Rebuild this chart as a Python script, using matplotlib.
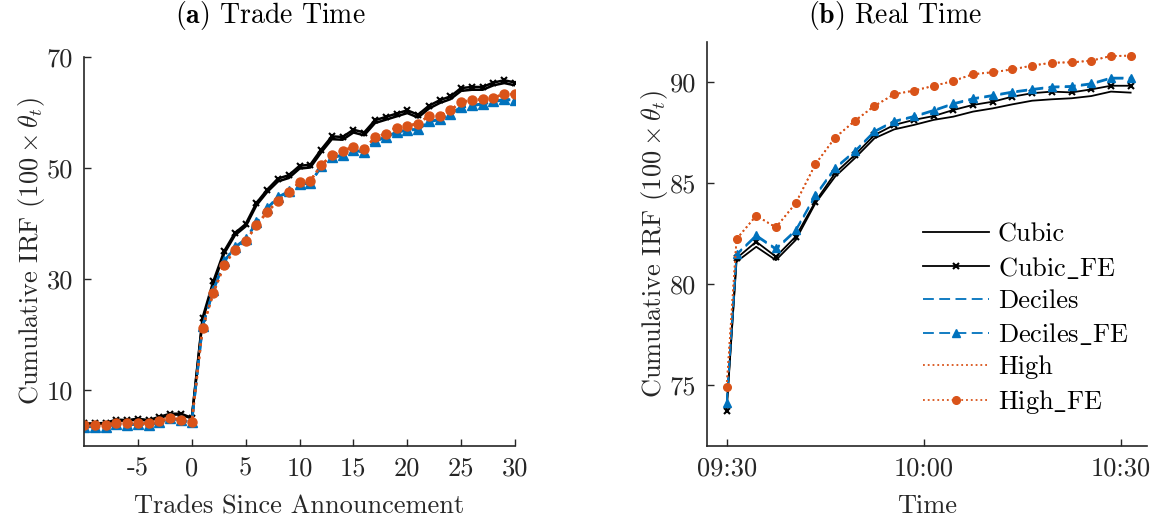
import numpy as np
import matplotlib
matplotlib.use("Agg")
import matplotlib.pyplot as plt

plt.rcParams['font.family'] = ['cmr10', 'DejaVu Serif']
plt.rcParams['mathtext.fontset'] = 'cm'
plt.rcParams['axes.formatter.use_mathtext'] = True

BLUE = '#0072BD'
ORANGE = '#D95319'
GREY = '#262626'

# ---- panel (a): trade time ----
trades = np.arange(-10, 31)
a_cubic_fe = [4.0, 4.0, 4.1, 4.7, 4.6, 4.85, 4.6, 5.2, 5.75, 5.75, 5.0,
              23.0, 29.6, 35.0, 38.3, 39.9, 43.7, 46.1, 48.1, 48.7, 50.4,
              50.6, 53.3, 55.7, 55.6, 56.9, 56.4, 58.6, 59.2, 59.8, 60.4,
              59.6, 61.2, 62.2, 62.9, 64.4, 64.6, 64.6, 65.4, 65.8, 65.4]
a_cubic = [3.9, 3.9, 4.0, 4.5, 4.5, 4.7, 4.5, 5.0, 5.6, 5.6, 4.9,
           22.6, 29.1, 34.6, 37.9, 39.5, 43.3, 45.7, 47.6, 48.2, 49.9,
           50.1, 52.8, 55.2, 55.1, 56.4, 55.9, 58.1, 58.7, 59.3, 59.9,
           59.1, 60.7, 61.7, 62.4, 63.9, 64.1, 64.1, 64.9, 65.3, 64.9]
a_deciles_fe = [3.4, 3.4, 3.4, 3.9, 3.7, 3.9, 3.7, 4.2, 4.9, 4.6, 4.2,
                21.6, 28.0, 33.2, 35.8, 37.2, 40.2, 42.8, 44.8, 45.8, 47.2,
                47.3, 50.3, 51.9, 52.4, 53.3, 52.9, 54.9, 55.6, 56.5, 56.9,
                57.0, 58.4, 58.8, 59.8, 61.0, 61.3, 61.6, 62.0, 62.4, 62.3]
a_deciles = [3.4, 3.4, 3.4, 3.9, 3.7, 3.9, 3.7, 4.2, 4.9, 4.6, 4.2,
             21.5, 27.9, 33.1, 35.7, 37.1, 40.1, 42.7, 44.7, 45.7, 47.1,
             47.2, 50.2, 51.8, 52.3, 53.2, 52.8, 54.8, 55.5, 56.4, 56.8,
             56.9, 58.3, 58.7, 59.7, 60.9, 61.2, 61.5, 61.9, 62.3, 62.2]
a_high_fe = [3.7, 3.7, 3.7, 4.1, 4.0, 4.1, 4.0, 4.4, 5.0, 4.7, 4.3,
             21.2, 27.5, 32.5, 35.3, 36.8, 39.7, 42.1, 44.1, 45.7, 47.4,
             47.7, 50.5, 52.3, 53.1, 53.8, 53.4, 55.5, 56.2, 57.3, 57.6,
             58.0, 59.4, 59.4, 60.4, 61.9, 62.2, 62.4, 62.7, 63.3, 63.3]
a_high = [3.7, 3.7, 3.7, 4.1, 4.0, 4.1, 4.0, 4.4, 5.0, 4.7, 4.3,
          21.2, 27.5, 32.5, 35.3, 36.8, 39.7, 42.1, 44.1, 45.7, 47.4,
          47.7, 50.5, 52.3, 53.1, 53.8, 53.4, 55.5, 56.2, 57.3, 57.6,
          58.0, 59.4, 59.4, 60.4, 61.9, 62.2, 62.4, 62.7, 63.3, 63.3]

# ---- panel (b): real time (minutes after 09:30) ----
minutes = [0, 1.5, 4.5, 7.5, 10.5, 13.5, 16.5, 19.5, 22.5, 25.5, 28.5,
           31.5, 34.5, 37.5, 40.5, 43.5, 46.5, 49.5, 52.5, 55.5, 58.5, 61.5]
b_cubic_fe = [73.75, 81.29, 82.11, 81.37, 82.36, 84.09, 85.50, 86.40, 87.39, 87.89, 88.14,
              88.33, 88.63, 88.88, 89.04, 89.29, 89.46, 89.54, 89.50, 89.65, 89.83, 89.83]
b_cubic = [73.94, 81.12, 81.86, 81.20, 82.19, 84.01, 85.33, 86.24, 87.23, 87.67, 87.89,
           88.14, 88.30, 88.55, 88.71, 88.91, 89.09, 89.16, 89.21, 89.32, 89.54, 89.49]
b_deciles_fe = [74.11, 81.50, 82.44, 81.78, 82.69, 84.42, 85.78, 86.60, 87.59, 88.09, 88.33,
                88.63, 88.96, 89.21, 89.37, 89.54, 89.67, 89.79, 89.82, 89.95, 90.23, 90.23]
b_deciles = [74.05, 81.45, 82.38, 81.72, 82.63, 84.36, 85.72, 86.55, 87.54, 88.04, 88.28,
             88.58, 88.91, 89.16, 89.32, 89.49, 89.62, 89.74, 89.77, 89.90, 90.18, 90.18]
b_high_fe = [74.93, 82.24, 83.40, 82.82, 84.01, 85.94, 87.26, 88.09, 88.83, 89.41, 89.59,
             89.82, 90.07, 90.40, 90.50, 90.64, 90.83, 90.97, 90.99, 91.07, 91.30, 91.32]
b_high = [74.93, 82.24, 83.40, 82.82, 84.01, 85.94, 87.26, 88.09, 88.83, 89.41, 89.59,
          89.82, 90.07, 90.40, 90.50, 90.64, 90.83, 90.97, 90.99, 91.07, 91.30, 91.32]
time_ticks = [0, 30, 60]
time_labels = ['09:30', '10:00', '10:30']

labels = ['Cubic', r'Cubic$\_$FE', 'Deciles', r'Deciles$\_$FE', 'High', r'High$\_$FE']

FS = 19


def style(ax):
    for s in ['top', 'right']:
        ax.spines[s].set_visible(False)
    for s in ['left', 'bottom']:
        ax.spines[s].set_color(GREY)
        ax.spines[s].set_linewidth(1.2)
    ax.tick_params(direction='in', length=5, width=1, colors=GREY,
                   labelsize=FS, pad=8)


def draw(ax, x, series, lw, ms):
    cubic, cubic_fe, dec, dec_fe, high, high_fe = series
    ax.plot(x, cubic, '-', color='k', lw=lw)
    ax.plot(x, cubic_fe, '-', color='k', lw=lw, marker='x', ms=ms * 0.7, mew=1.5)
    ax.plot(x, dec, '--', color=BLUE, lw=lw, dashes=(6, 3))
    ax.plot(x, dec_fe, '--', color=BLUE, lw=lw, dashes=(6, 3), marker='^', ms=ms)
    ax.plot(x, high, ':', color=ORANGE, lw=lw)
    ax.plot(x, high_fe, ':', color=ORANGE, lw=lw, marker='o', ms=ms)


fig = plt.figure(figsize=(11.61, 5.18), dpi=100)

ax1 = fig.add_axes([0.0724, 0.1396, 0.3712, 0.7504])
draw(ax1, trades, [a_cubic, a_cubic_fe, a_deciles, a_deciles_fe, a_high, a_high_fe], 1.8, 6.5)
style(ax1)
ax1.set_xlim(-10, 30)
ax1.set_ylim(0, 70)
ax1.set_xticks([-5, 0, 5, 10, 15, 20, 25, 30],
               labels=['-5', '0', '5', '10', '15', '20', '25', '30'])
ax1.set_yticks([10, 30, 50, 70], labels=['10', '30', '50', '70'])
ax1.set_xlabel('Trades Since Announcement', fontsize=FS, color=GREY, labelpad=10)
ax1.set_ylabel(r'Cumulative IRF $(100\times\theta_t)$', fontsize=FS, color=GREY, labelpad=0)

ax2 = fig.add_axes([0.6092, 0.139, 0.3785, 0.7801])
draw(ax2, minutes, [b_cubic, b_cubic_fe, b_deciles, b_deciles_fe, b_high, b_high_fe], 1.3, 5.5)
style(ax2)
ax2.set_xlim(-2.95, 63.95)
ax2.set_ylim(72, 92)
ax2.set_xticks(time_ticks, labels=time_labels)
ax2.set_yticks([75, 80, 85, 90], labels=['75', '80', '85', '90'])
ax2.set_xlabel('Time', fontsize=FS, color=GREY, labelpad=10)
ax2.set_ylabel(r'Cumulative IRF $(100\times\theta_t)$', fontsize=FS, color=GREY, labelpad=0)

leg = ax2.legend(labels, loc='center left', bbox_to_anchor=(0.49, 0.314),
                 frameon=False, fontsize=FS, handlelength=2.5, handletextpad=0.35,
                 labelspacing=0.32, borderpad=0, borderaxespad=0)
for t in leg.get_texts():
    t.set_color('k')

fig.text(270 / 1161, 1 - 16 / 518, r'$\mathbf{(a)}$ Trade Time', fontsize=FS + 1,
         ha='center', va='center', color='k')
fig.text(895 / 1161, 1 - 16 / 518, r'$\mathbf{(b)}$ Real Time', fontsize=FS + 1,
         ha='center', va='center', color='k')

fig.savefig('out.png', dpi=100)
